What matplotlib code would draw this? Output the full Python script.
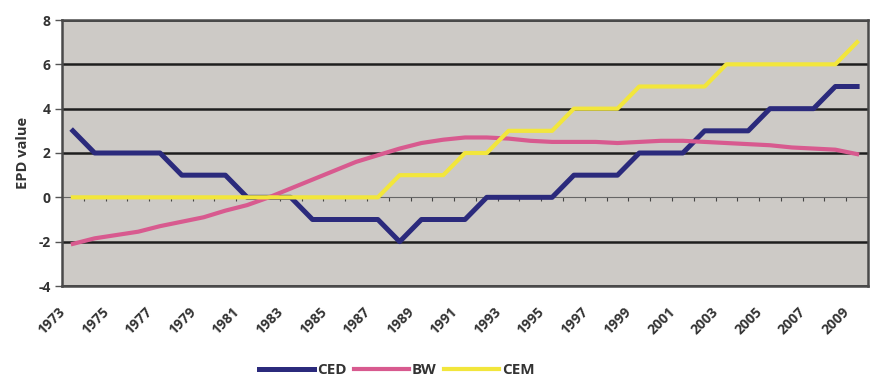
import matplotlib.pyplot as plt
import matplotlib.transforms as mtransforms

# EPD trend values per birth year
years = list(range(1973, 2010))
ced = [3, 2, 2, 2, 2, 1, 1, 1, 0, 0, 0, -1, -1, -1, -1, -2, -1, -1, -1,
       0, 0, 0, 0, 1, 1, 1, 2, 2, 2, 3, 3, 3, 4, 4, 4, 5, 5]
bw = [-2.1, -1.85, -1.7, -1.55, -1.3, -1.1, -0.9, -0.6, -0.35, 0.0, 0.4, 0.8,
      1.2, 1.6, 1.9, 2.2, 2.45, 2.6, 2.7, 2.7, 2.65, 2.55, 2.5, 2.5, 2.5,
      2.45, 2.5, 2.55, 2.55, 2.5, 2.45, 2.4, 2.35, 2.25, 2.2, 2.15, 1.95]
cem = [0] * 15 + [1, 1, 1, 2, 2, 3, 3, 3, 4, 4, 4, 5, 5, 5, 5,
                  6, 6, 6, 6, 6, 6, 7]
series_names = ['CED', 'BW', 'CEM']
series_colors = ['#2b2a7c', '#d85a8f', '#f2e63c']

plt.rcParams['font.family'] = ['Open Sans', 'DejaVu Sans']
plt.rcParams['axes.unicode_minus'] = False
text_color = '#333333'

fig = plt.figure(figsize=(8.75, 3.77), dpi=100)
ax = fig.add_axes([62 / 875, 1 - 286 / 377, 806 / 875, 266 / 377])
ax.set_facecolor('#cdcac6')

x = list(range(len(years)))
for vals, name, col, lw in zip([ced, bw, cem], series_names, series_colors,
                               [3.6, 3.0, 3.0]):
    ax.plot(x, vals, color=col, lw=lw, label=name, zorder=3)

ax.set_xlim(-0.5, len(years) - 0.5)
ax.set_ylim(-4, 8)

# y axis: thick black gridlines, none at zero (the category axis sits there)
ax.set_yticks(range(-4, 9, 2))
ax.set_axisbelow(True)
ax.yaxis.grid(True, color='#1e1e1e', lw=1.8)
ax.yaxis.get_gridlines()[2].set_visible(False)
ax.tick_params(axis='y', length=5, width=1, color='#555555', pad=3,
               labelsize=10, labelcolor=text_color)
for lab in ax.get_yticklabels():
    lab.set_fontweight('bold')
ax.set_ylabel('EPD value', fontsize=10.5, fontweight='bold', color=text_color)
ax.yaxis.set_label_coords(-0.04, 0.5)

# year labels along the bottom, every other year
ax.set_xticks(x[::2])
ax.set_xticklabels([str(y) for y in years[::2]], rotation=45, ha='right',
                   va='top', fontsize=10, fontweight='bold', color=text_color)
ax.tick_params(axis='x', length=0, pad=13.5)
shift = mtransforms.ScaledTranslation(-0.05, 0, fig.dpi_scale_trans)
for lab in ax.get_xticklabels():
    lab.set_transform(lab.get_transform() + shift)

for sp in ax.spines.values():
    sp.set_color('#4a4a4a')
    sp.set_linewidth(1.8)

# category axis crossing at zero with small ticks between categories
zero_axis = ax.secondary_xaxis(4 / 12)
zero_axis.set_xticks([i + 0.5 for i in range(len(years) - 1)])
zero_axis.tick_params(direction='out', length=3, width=0.8, color='#444444',
                      labelbottom=False, labeltop=False)
zero_axis.spines['bottom'].set_color('#666666')
zero_axis.spines['bottom'].set_linewidth(0.8)

fig.legend(loc='center', bbox_to_anchor=(397 / 875, 1 - 370 / 377),
           ncol=3, frameon=False, handlelength=3.6, handletextpad=0.2,
           columnspacing=0.5, prop={'size': 11, 'weight': 'bold'},
           labelcolor=text_color)

fig.savefig('out.png', dpi=100, facecolor='white')
